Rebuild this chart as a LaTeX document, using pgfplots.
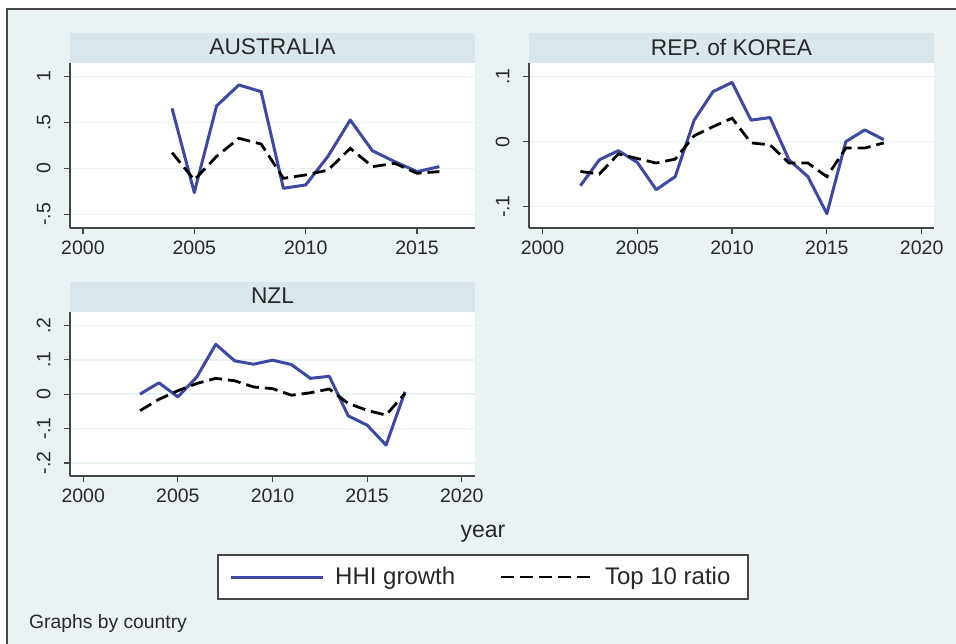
\documentclass[border=0pt]{standalone}
\usepackage{pgfplots}
\pgfplotsset{compat=1.18}
\usepackage{fontspec}
\setmainfont{Liberation Sans}
\definecolor{bgc}{RGB}{234,242,243}
\definecolor{bandc}{RGB}{217,230,235}
\definecolor{hhic}{RGB}{62,72,165}
\definecolor{axc}{RGB}{70,70,70}
\definecolor{txt}{RGB}{40,40,40}

\pgfplotsset{
  panel/.style={
    scale only axis, anchor=south west, width=405pt,
    axis x line*=bottom, axis y line*=left,
    axis line style={axc, line width=1.2pt, -},
    tick style={axc, line width=1.2pt},
    tick align=outside, major tick length=6pt,
    ymajorgrids, grid style={bgc, line width=1.5pt},
    xtick={2000,2005,2010,2015,2020},
    /pgf/number format/1000 sep={},
    /pgf/number format/assume math mode=true,
    xticklabel style={font=\fontsize{19.5}{21}\selectfont, text=txt, yshift=-3pt},
    % shift after rotate: y points left in the rotated frame
    yticklabel style={font=\fontsize{19.5}{21}\selectfont, text=txt, rotate=90, anchor=south, yshift=10pt},
    axis background/.style={fill=white},
  },
  hhi/.style={hhic, line width=3pt, line join=round},
  top/.style={black, line width=2.8pt, dash pattern=on 13pt off 6pt},
}

\begin{document}
\begin{tikzpicture}[x=1pt,y=1pt]
\useasboundingbox (0,0) rectangle (956,644);
\fill[white] (0,0) rectangle (956,644);
\fill[bgc] (7,0) rectangle (956,635);
\draw[axc, line width=2pt] (7,0) -- (7,635) -- (956,635);

% title bands
\fill[bandc] (70,581) rectangle (475,611);
\node[font=\fontsize{22.7}{24}\selectfont, text=txt] at (272.5,597) {AUSTRALIA};
\fill[bandc] (529,581) rectangle (934,611);
\node[font=\fontsize{22.7}{24}\selectfont, text=txt] at (731.5,597) {REP. of KOREA};
\fill[bandc] (70,332) rectangle (475,362);
\node[font=\fontsize{22.7}{24}\selectfont, text=txt] at (272.5,348) {NZL};

% AUSTRALIA
\begin{axis}[panel, at={(70pt,416pt)}, height=165pt,
  xmin=1999.42, xmax=2017.6, ymin=-0.649, ymax=1.145,
  xtick={2000,2005,2010,2015},
  ytick={-0.5,0,0.5,1}, yticklabels={-.5,0,.5,1}]
\addplot[hhi] coordinates {(2004,0.652)(2005,-0.264)(2006,0.678)(2007,0.906)(2008,0.833)(2009,-0.217)(2010,-0.181)(2011,0.13)(2012,0.525)(2013,0.19)(2014,0.072)(2015,-0.036)(2016,0.018)};
\addplot[top] coordinates {(2004,0.17)(2005,-0.127)(2006,0.13)(2007,0.326)(2008,0.264)(2009,-0.109)(2010,-0.072)(2011,-0.02)(2012,0.217)(2013,0.018)(2014,0.054)(2015,-0.054)(2016,-0.036)};
\end{axis}

% KOREA
\begin{axis}[panel, at={(529pt,416pt)}, height=165pt,
  xmin=1999.29, xmax=2020.65, ymin=-0.133, ymax=0.121,
  ytick={-0.1,0,0.1}, yticklabels={-.1,0,.1}]
\addplot[hhi] coordinates {(2002,-0.068)(2003,-0.028)(2004,-0.014)(2005,-0.032)(2006,-0.074)(2007,-0.054)(2008,0.033)(2009,0.077)(2010,0.091)(2011,0.033)(2012,0.037)(2013,-0.028)(2014,-0.054)(2015,-0.111)(2016,0.0)(2017,0.018)(2018,0.003)};
\addplot[top] coordinates {(2002,-0.046)(2003,-0.05)(2004,-0.019)(2005,-0.026)(2006,-0.033)(2007,-0.027)(2008,0.009)(2009,0.023)(2010,0.036)(2011,-0.002)(2012,-0.005)(2013,-0.033)(2014,-0.033)(2015,-0.054)(2016,-0.01)(2017,-0.01)(2018,-0.002)};
\end{axis}

% legend box
\filldraw[fill=white, draw=axc, line width=1.5pt] (218,45) rectangle (748,89);

% NZL
\begin{axis}[panel, at={(70pt,168pt)}, height=164pt,
  xmin=1999.3, xmax=2020.7, ymin=-0.238, ymax=0.239,
  ytick={-0.2,-0.1,0,0.1,0.2}, yticklabels={-.2,-.1,0,.1,.2},
  legend columns=2,
  legend image code/.code={\draw[#1] (0pt,0pt) -- (92pt,0pt);},
  legend style={draw=none, fill=none, inner sep=0pt,
    at={(0.3926,-0.616)}, anchor=west,
    font=\fontsize{24}{27}\selectfont, text=txt,
    /tikz/every odd column/.append style={column sep=9pt},
    /tikz/every even column/.append style={column sep=42pt}}]
\addplot[hhi] coordinates {(2003,0.0)(2004,0.033)(2005,-0.008)(2006,0.05)(2007,0.145)(2008,0.097)(2009,0.087)(2010,0.099)(2011,0.086)(2012,0.046)(2013,0.052)(2014,-0.063)(2015,-0.09)(2016,-0.148)(2017,0.007)};
\addlegendentry{HHI growth}
\addplot[top] coordinates {(2003,-0.048)(2004,-0.015)(2005,0.01)(2006,0.031)(2007,0.046)(2008,0.039)(2009,0.021)(2010,0.016)(2011,-0.003)(2012,0.004)(2013,0.015)(2014,-0.027)(2015,-0.047)(2016,-0.061)(2017,0.002)};
\addlegendentry{Top 10 ratio}
\end{axis}

\node[font=\fontsize{23}{26}\selectfont, text=txt, anchor=base] at (483,106) {year};
\node[font=\fontsize{19.3}{21}\selectfont, text=txt, anchor=base west, inner sep=0pt] at (29,15) {Graphs by country};
\end{tikzpicture}
\end{document}
